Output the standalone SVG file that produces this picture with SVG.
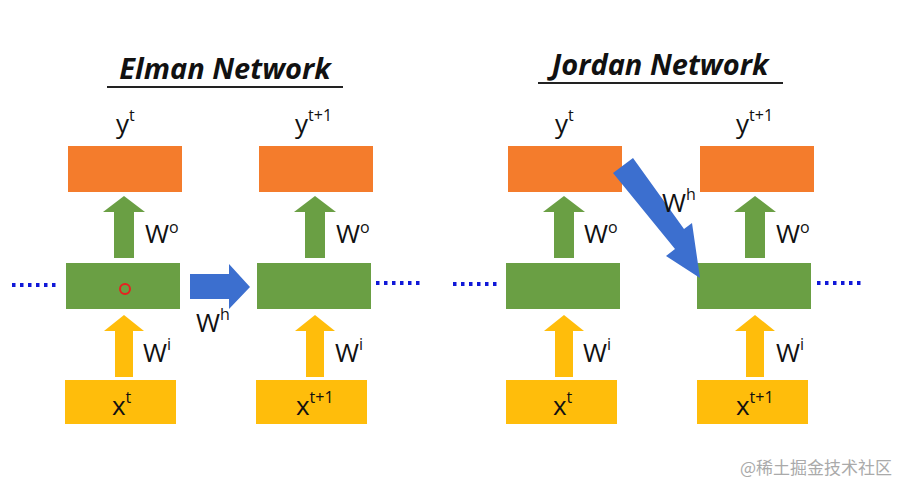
<svg xmlns="http://www.w3.org/2000/svg" width="905" height="484" viewBox="0 0 905 484">
<style>
.t{font-family:"Open Sans","Liberation Sans",sans-serif;fill:#111}
.lab{font-size:26px}
.sup{font-size:16px}
.title{font-family:"Open Sans","Liberation Sans",sans-serif;font-size:29px;font-weight:bold;font-style:italic;fill:#111}
.o{fill:#f47c2c}.g{fill:#6a9f44}.y{fill:#ffbd0b}.b{fill:#3c6fcf}
.dot{stroke:#1018d8;stroke-width:4;stroke-dasharray:3.5 4.5}
</style>
<rect width="905" height="484" fill="#fff"/>
<g id="elman-title"><text class="title" x="225" y="79" text-anchor="middle">Elman Network</text><line x1="107" y1="87" x2="343" y2="87" stroke="#222" stroke-width="2"/></g>
<g id="jordan-title"><text class="title" x="660" y="75" text-anchor="middle">Jordan Network</text><line x1="538" y1="83" x2="783" y2="83" stroke="#222" stroke-width="2"/></g>
<g id="e-y1"><rect class="o" x="68" y="146" width="114" height="46"/><text class="t lab" x="116" y="133">y<tspan class="sup" dy="-12">t</tspan></text></g>
<g id="e-y2"><rect class="o" x="259" y="146" width="114" height="46"/><text class="t lab" x="295" y="133">y<tspan class="sup" dy="-12">t+1</tspan></text></g>
<g id="e-h1"><rect class="g" x="66" y="263" width="114" height="46"/><circle cx="125" cy="289" r="5" fill="none" stroke="#e82020" stroke-width="2"/></g>
<g id="e-h2"><rect class="g" x="257" y="263" width="114" height="46"/></g>
<g id="e-x1"><rect class="y" x="65" y="380" width="111" height="44"/><text class="t lab" x="112" y="415">x<tspan class="sup" dy="-12">t</tspan></text></g>
<g id="e-x2"><rect class="y" x="256" y="380" width="111" height="44"/><text class="t lab" x="296" y="415">x<tspan class="sup" dy="-12">t+1</tspan></text></g>
<g id="j-y1"><rect class="o" x="508" y="146" width="114" height="46"/><text class="t lab" x="555" y="133">y<tspan class="sup" dy="-12">t</tspan></text></g>
<g id="j-y2"><rect class="o" x="700" y="146" width="114" height="46"/><text class="t lab" x="736" y="133">y<tspan class="sup" dy="-12">t+1</tspan></text></g>
<g id="j-h1"><rect class="g" x="506" y="263" width="114" height="46"/></g>
<g id="j-h2"><rect class="g" x="697" y="263" width="114" height="46"/></g>
<g id="j-x1"><rect class="y" x="506" y="380" width="111" height="44"/><text class="t lab" x="553" y="415">x<tspan class="sup" dy="-12">t</tspan></text></g>
<g id="j-x2"><rect class="y" x="697" y="380" width="111" height="44"/><text class="t lab" x="736" y="415">x<tspan class="sup" dy="-12">t+1</tspan></text></g>
<g id="connectors">
<polygon class="g" points="114,258 134,258 134,212 145,212 124,196 103,212 114,212"/>
<polygon class="g" points="305,258 325,258 325,212 336,212 315,196 294,212 305,212"/>
<polygon class="g" points="554,258 574,258 574,212 585,212 564,196 543,212 554,212"/>
<polygon class="g" points="745,258 765,258 765,212 776,212 755,196 734,212 745,212"/>
<polygon class="y" points="115,377 133,377 133,331 144,331 124,315 104,331 115,331"/>
<polygon class="y" points="306,377 324,377 324,331 335,331 315,315 295,331 306,331"/>
<polygon class="y" points="555,377 573,377 573,331 584,331 564,315 544,331 555,331"/>
<polygon class="y" points="746,377 764,377 764,331 775,331 755,315 735,331 755,331 746,331"/>
<polygon class="b" points="190,274 229,274 229,264 250,287 229,309 229,299 190,299"/>
<polygon class="b" points="613,173 633,158 684,229 692,223 700,278 666,256 675,249"/>
<line class="dot" x1="12" y1="285" x2="60" y2="285"/>
<line class="dot" x1="376" y1="283" x2="424" y2="283"/>
<line class="dot" x1="453" y1="284" x2="501" y2="284"/>
<line class="dot" x1="817" y1="283" x2="865" y2="283"/>
</g>
<g id="labels">
<text class="t lab" x="145" y="243">W<tspan class="sup" dy="-10">o</tspan></text>
<text class="t lab" x="336" y="243">W<tspan class="sup" dy="-10">o</tspan></text>
<text class="t lab" x="584" y="243">W<tspan class="sup" dy="-10">o</tspan></text>
<text class="t lab" x="776" y="243">W<tspan class="sup" dy="-10">o</tspan></text>
<text class="t lab" x="143" y="362">W<tspan class="sup" dy="-12">i</tspan></text>
<text class="t lab" x="335" y="362">W<tspan class="sup" dy="-12">i</tspan></text>
<text class="t lab" x="583" y="362">W<tspan class="sup" dy="-12">i</tspan></text>
<text class="t lab" x="776" y="362">W<tspan class="sup" dy="-12">i</tspan></text>
<text class="t lab" x="196" y="332">W<tspan class="sup" dy="-12">h</tspan></text>
<text class="t lab" x="662" y="212">W<tspan class="sup" dy="-12">h</tspan></text>
</g>
<text x="740" y="474" font-family="'Noto Sans CJK SC',sans-serif" font-size="17" fill="#aaa">@稀土掘金技术社区</text>
</svg>
